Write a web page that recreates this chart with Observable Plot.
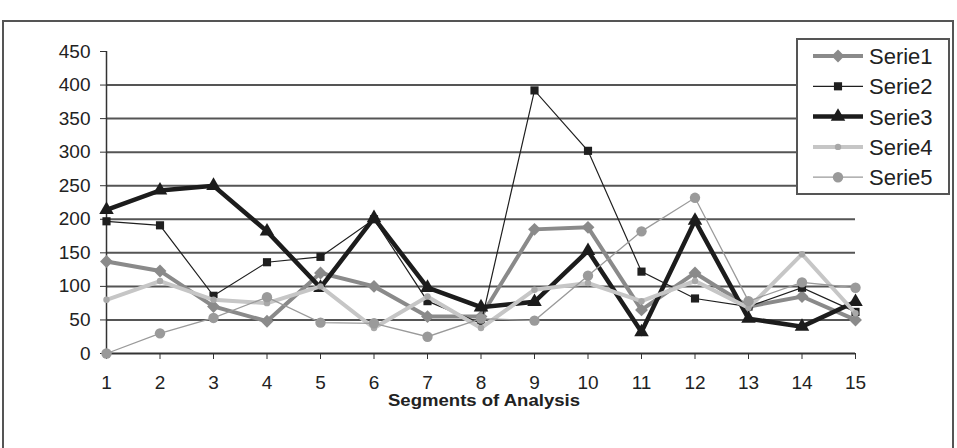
<!DOCTYPE html>
<html>
<head>
<meta charset="utf-8">
<script src="https://cdn.jsdelivr.net/npm/d3@7"></script>
<script src="https://cdn.jsdelivr.net/npm/@observablehq/plot@0.6"></script>
<style>
  html, body { margin: 0; padding: 0; background: #fff; }
  #chart { width: 957px; height: 448px; overflow: hidden; }
</style>
</head>
<body>
<div id="chart"></div>
<script>
// ---- data ----
const segments = [1, 2, 3, 4, 5, 6, 7, 8, 9, 10, 11, 12, 13, 14, 15];
const serieNames = ["Serie1", "Serie2", "Serie3", "Serie4", "Serie5"];
const serie1 = [137, 123, 70, 48, 120, 100, 55, 55, 185, 188, 65, 120, 70, 85, 50];
const serie2 = [197, 191, 86, 136, 144, 200, 78, 45, 392, 302, 122, 82, 70, 98, 62];
const serie3 = [214, 243, 250, 182, 98, 202, 98, 69, 77, 153, 32, 198, 52, 40, 77];
const serie4 = [80, 108, 80, 75, 100, 38, 85, 38, 95, 105, 78, 108, 68, 148, 60];
const serie5 = [0, 30, 53, 84, 46, 45, 25, 52, 49, 116, 182, 232, 78, 106, 98];
const yTicks = [0, 50, 100, 150, 200, 250, 300, 350, 400, 450];
const gridTicks = [50, 100, 150, 200, 250, 300, 350, 400];
const xTitle = "Segments of Analysis";

// ---- styles (separate from data) ----
const styles = [
  {line: "#8a8a8a", width: 4,   symbol: "diamond2", fill: "#8a8a8a", r: 5.8},
  {line: "#1f1f1f", width: 1.2, symbol: "square",   fill: "#1f1f1f", r: 4.6},
  {line: "#1c1c1c", width: 4.5, symbol: "triangle", fill: "#1c1c1c", r: 5.4},
  {line: "#c6c6c6", width: 4,   symbol: "circle",   fill: "#a8a8a8", r: 3.2},
  {line: "#9a9a9a", width: 1.3, symbol: "circle",   fill: "#9a9a9a", r: 5.2}
];
const d3Symbols = {diamond2: d3.symbolDiamond2, square: d3.symbolSquare, triangle: d3.symbolTriangle, circle: d3.symbolCircle};

const seriesValues = [serie1, serie2, serie3, serie4, serie5];
const rows = seriesValues.map((vals, i) =>
  segments.map((s, j) => ({segment: s, value: vals[j], series: serieNames[i]})));

const seriesMarks = [];
rows.forEach((data, i) => {
  const st = styles[i];
  seriesMarks.push(Plot.line(data, {x: "segment", y: "value", stroke: st.line, strokeWidth: st.width, strokeLinejoin: "miter", strokeMiterlimit: 3}));
  seriesMarks.push(Plot.dot(data, {x: "segment", y: "value", symbol: () => st.symbol, fill: st.fill, r: st.r, stroke: "none"}));
});

const chart = Plot.plot({
  width: 957,
  height: 448,
  marginLeft: 106,
  marginRight: 102,
  marginTop: 51,
  marginBottom: 95,
  x: {type: "linear", domain: [1, 15]},
  y: {domain: [0, 450]},
  style: {fontFamily: "'Liberation Sans', Arial, sans-serif", color: "#222", background: "#fff", overflow: "visible"},
  marks: [
    Plot.gridY(gridTicks, {stroke: "#555", strokeWidth: 2, strokeOpacity: 1}),
    Plot.axisY(yTicks, {tickSize: 6, tickPadding: 10, fontSize: 19, label: null, stroke: "#333"}),
    Plot.axisX(segments, {tickSize: 6, tickPadding: 16, fontSize: 19, label: null, tickFormat: d => String(d), stroke: "#333"}),
    Plot.ruleX([1], {stroke: "#333", strokeWidth: 1.5}),
    Plot.ruleY([0], {stroke: "#333", strokeWidth: 2}),
    Plot.text([xTitle], {frameAnchor: "bottom", dx: 3, dy: 52, text: d => d, fontSize: 16, fontWeight: "bold", fill: "#222", className: "xtitle"}),
    ...seriesMarks
  ]
});

document.getElementById("chart").appendChild(chart);

const svg = d3.select(chart);
// stretch the axis title to the reference's width
svg.selectAll(".xtitle text").attr("textLength", 192).attr("lengthAdjust", "spacingAndGlyphs");

// ---- outer frame & legend ----
svg.append("rect")
  .attr("x", 3).attr("y", 21).attr("width", 950).attr("height", 460)
  .attr("fill", "none").attr("stroke", "#555").attr("stroke-width", 2);

const lg = svg.append("g").attr("text-anchor", "start");
lg.append("rect")
  .attr("x", 797).attr("y", 39).attr("width", 152).attr("height", 155)
  .attr("fill", "#fff").attr("stroke", "#555").attr("stroke-width", 2);
serieNames.forEach((name, i) => {
  const st = styles[i];
  const y = 56 + i * 30.3;
  lg.append("line").attr("x1", 813).attr("x2", 863).attr("y1", y).attr("y2", y)
    .attr("stroke", st.line).attr("stroke-width", st.width);
  lg.append("path")
    .attr("d", d3.symbol(d3Symbols[st.symbol], Math.PI * st.r * st.r)())
    .attr("transform", `translate(838,${y})`)
    .attr("fill", st.fill);
  lg.append("text").attr("x", 869).attr("y", y).attr("dy", "0.36em")
    .attr("text-anchor", "start")
    .attr("font-size", 22).attr("fill", "#222").text(name);
});
</script>
</body>
</html>
